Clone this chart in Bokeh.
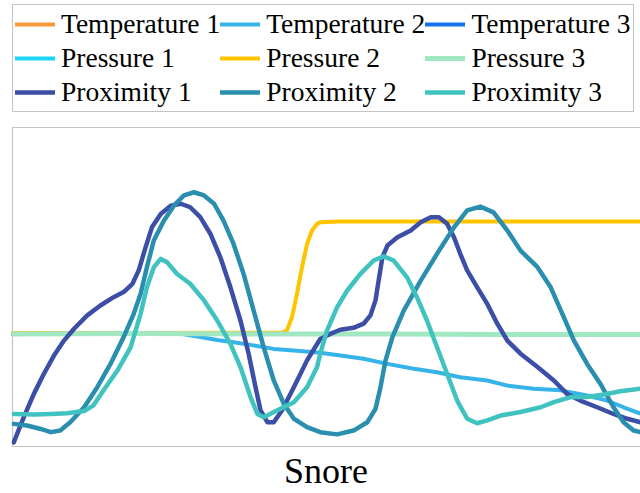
from bokeh.plotting import figure
from bokeh.models import Range1d, Legend, LegendItem, FixedTicker, BoxAnnotation
from bokeh.embed import file_html
from bokeh.resources import INLINE

# Sensor traces over one snore event (time in % of window, signal in % of scale)
flat_x = [0, 20, 40, 60, 80, 100]
temperature_1 = [35.3, 35.3, 35.3, 35.3, 35.3, 35.3]
temperature_3 = [35.3, 35.3, 35.3, 35.3, 35.3, 35.3]
pressure_1 = [35.3, 35.3, 35.3, 35.3, 35.3, 35.3]
pressure_3 = [35.3, 35.4, 35.3, 35.3, 35.1, 35.1]

temperature_2_x = [0, 20, 26.8, 29.9, 32.6, 35.2, 38.4, 41.6, 44.8, 49.0, 52.2, 55.9,
                   59.7, 63.9, 67.6, 71.3, 75.6, 78.8, 83.0, 87.3, 91.5, 94.7, 97.3, 100]
temperature_2 = [35.3, 35.3, 35.3, 34.3, 33.4, 32.7, 31.7, 30.6, 30.1, 29.4, 28.5, 27.5,
                 25.9, 24.4, 23.3, 21.7, 20.7, 19.1, 18.1, 17.6, 16.0, 14.4, 12.3, 10.3]

pressure_2_x = [0, 20, 43.0, 43.7, 44.5, 45.3, 46.1, 46.9, 47.7, 48.5, 49.0, 52, 75, 100]
pressure_2 = [35.6, 35.6, 35.7, 36.4, 40.5, 47.9, 56.2, 63.5, 67.7, 69.8, 70.3, 70.5, 70.5, 70.5]

proximity_1_x = [0.2, 1.8, 3.4, 5.0, 6.6, 8.2, 9.8, 11.9, 14.0, 16.1, 17.7, 19.1, 20.1, 21.2,
                 22.2, 23.6, 25.2, 26.8, 28.3, 29.9, 31.5, 33.1, 34.7, 36.3, 37.6, 38.7, 39.5,
                 40.6, 41.6, 42.9, 44.8, 46.9, 49.0, 50.6, 52.2, 54.3, 55.9, 57.0, 57.8, 58.3,
                 58.9, 59.7, 61.3, 63.4, 65.0, 66.6, 67.9, 69.2, 70.3, 71.3, 72.4, 74.0, 75.6,
                 77.2, 78.8, 80.9, 83.6, 86.2, 88.3, 90.4, 93.1, 95.7, 97.9, 100]
proximity_1 = [1.3, 9.2, 16.5, 22.8, 28.5, 33.2, 36.9, 41.1, 44.2, 46.8, 48.4, 51.0, 55.2, 62.5,
               68.7, 72.9, 75.5, 76.1, 75.0, 71.9, 66.7, 59.3, 49.9, 39.5, 29.1, 18.6, 11.3,
               7.6, 7.6, 11.3, 18.6, 27.0, 33.7, 35.3, 36.6, 37.2, 38.5, 41.1, 45.8, 52.0,
               59.3, 63.0, 65.6, 67.7, 70.3, 71.9, 71.9, 69.8, 65.6, 60.4, 55.2, 49.9, 44.7,
               38.5, 33.2, 29.1, 24.9, 20.7, 16.5, 14.4, 12.3, 10.2, 8.7, 7.6]

proximity_2_x = [0.2, 2.3, 4.5, 6.1, 7.6, 9.2, 11.4, 13.5, 15.6, 17.7, 19.3, 20.4, 21.4, 22.5,
                 24.1, 25.7, 27.3, 28.9, 30.5, 32.1, 33.6, 35.2, 36.8, 38.4, 40.0, 41.6, 43.2,
                 44.8, 46.9, 49.0, 51.7, 54.3, 56.5, 57.8, 58.6, 59.4, 60.5, 62.3, 65.0, 67.6,
                 70.3, 72.4, 74.5, 76.6, 78.8, 80.9, 83.6, 85.7, 87.8, 89.4, 91.5, 93.6, 95.7,
                 97.3, 98.9, 100]
proximity_2 = [7.1, 6.6, 5.5, 4.5, 5.0, 7.6, 12.3, 18.6, 25.9, 34.3, 41.6, 47.9, 56.2, 64.6,
               70.8, 75.5, 78.7, 79.7, 78.7, 76.1, 70.8, 63.5, 54.1, 42.6, 31.1, 20.7, 13.4,
               8.7, 6.1, 4.5, 3.8, 5.0, 7.6, 11.8, 18.6, 27.0, 34.3, 42.6, 52.0, 60.4,
               68.7, 74.0, 75.2, 73.4, 67.7, 61.4, 56.2, 49.9, 40.5, 33.2, 25.9, 19.7, 12.3,
               7.6, 5.0, 4.5]

proximity_3_x = [0.2, 3.4, 6.1, 8.7, 11.4, 12.9, 14.5, 16.7, 18.8, 20.4, 21.4, 22.5, 23.6, 24.6,
                 26.2, 28.3, 30.5, 32.6, 34.7, 36.3, 37.9, 39.0, 40.0, 42.1, 44.8, 46.9, 48.5,
                 49.0, 50.1, 51.7, 53.3, 55.4, 57.5, 59.1, 60.7, 62.8, 64.4, 66.0, 67.6, 69.2,
                 70.8, 72.4, 74.0, 75.6, 77.7, 80.9, 84.1, 86.2, 88.9, 91.5, 94.2, 96.8, 100]
proximity_3 = [10.2, 10.0, 10.2, 10.4, 11.1, 12.9, 17.6, 23.8, 31.1, 41.6, 49.9, 56.2, 58.8, 57.8,
               54.1, 51.0, 45.8, 39.5, 32.2, 24.9, 15.5, 10.2, 9.2, 11.3, 13.9, 18.6, 24.9,
               29.1, 36.4, 43.7, 48.9, 54.1, 58.3, 59.6, 58.3, 53.1, 46.8, 39.5, 31.1, 22.8,
               14.4, 8.7, 7.3, 8.2, 9.7, 10.8, 12.3, 13.9, 15.5, 15.5, 16.3, 17.3, 18.1]

series = [
    ("Temperature 1", flat_x, temperature_1, "#F7993B", 4),
    ("Temperature 2", temperature_2_x, temperature_2, "#36B3E8", 4),
    ("Temperature 3", flat_x, temperature_3, "#1472EE", 4),
    ("Pressure 1", flat_x, pressure_1, "#1DD6F4", 4),
    ("Pressure 2", pressure_2_x, pressure_2, "#FFC300", 4),
    ("Pressure 3", flat_x, pressure_3, "#A0E7C2", 5),
    ("Proximity 1", proximity_1_x, proximity_1, "#3D4EA6", 4.5),
    ("Proximity 2", proximity_2_x, proximity_2, "#2A8FAF", 4.5),
    ("Proximity 3", proximity_3_x, proximity_3, "#40C3C0", 4.5),
]

# The frame reaches to the top of the canvas so that the legend band above the
# signal box is drawable; signal scale 0-100 occupies the lower part of it, with
# a one-pixel margin left and below so the box edges are not clipped.
p = figure(width=640, height=493, output_backend="svg", toolbar_location=None,
           x_range=Range1d(-0.16, 100), y_range=Range1d(-0.31, 139.81),
           y_axis_location=None,
           min_border_left=11, min_border_right=0, min_border_top=0, min_border_bottom=46)
p.grid.visible = False
p.outline_line_color = None
p.background_fill_color = "white"
p.border_fill_color = "white"

# Box around the signal area; its right edge runs past the visible window
p.add_layout(BoxAnnotation(left=0, right=101, bottom=0, top=100, fill_alpha=0,
                           line_color="#C4C4C4", line_alpha=1, line_width=1.2,
                           level="underlay"))

xaxis = p.xaxis[0]
xaxis.ticker = FixedTicker(ticks=[])
xaxis.axis_line_color = None
xaxis.major_tick_line_color = None
xaxis.minor_tick_line_color = None
xaxis.major_label_text_font_size = "0px"
xaxis.axis_label = "Snore"
xaxis.axis_label_text_font = "Liberation Serif"
xaxis.axis_label_text_font_size = "36px"
xaxis.axis_label_text_font_style = "normal"
xaxis.axis_label_text_color = "black"
xaxis.axis_label_standoff = 3

items = []
for label, xs, ys, color, width in series:
    r = p.line(xs, ys, line_color=color, line_width=width,
               line_cap="round", line_join="round")
    items.append(LegendItem(label=label, renderers=[r]))

legend = Legend(items=items, ncols=3, orientation="horizontal", location=(1, 335),
                label_text_font="Liberation Serif", label_text_font_size="27.5px",
                label_text_color="black",
                glyph_width=40, glyph_height=34, label_height=34, label_standoff=6,
                spacing=0, padding=2, margin=0,
                border_line_color="#C4C4C4", border_line_alpha=1, border_line_width=1.2,
                background_fill_color="white", background_fill_alpha=1)
p.add_layout(legend, "center")

open("out.html", "w").write(file_html(p, INLINE))
